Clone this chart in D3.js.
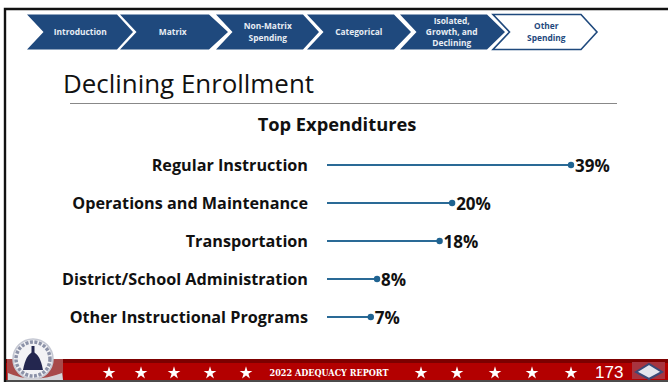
<!DOCTYPE html>
<html><head><meta charset="utf-8">
<script src="https://cdn.jsdelivr.net/npm/d3@7/dist/d3.min.js"></script>
<style>html,body{margin:0;padding:0;background:#fff}svg{display:block}text{font-family:"Open Sans",Lato,sans-serif}</style>
</head><body><svg id="c" width="668" height="382"></svg>
<script>
const categories=["Regular Instruction","Operations and Maintenance","Transportation","District/School Administration","Other Instructional Programs"];
const values=[39,20,18,8,7];
const navLabels=[["Introduction"],["Matrix"],["Non-Matrix","Spending"],["Categorical"],["Isolated,","Growth, and","Declining"],["Other","Spending"]];
const navStarts=[27,120,216,307,400,493];
const navEnds=[117,209,303,394,487,581];
const navTips=[133,228,319,411,505,597];
const starsX=[109,141,174,210,246,421,457,495,532,571];
const svg=d3.select("#c");
const x=d3.scaleLinear().domain([0,39]).range([327,571]);
const y=d3.scalePoint().domain(categories).range([165,317]);
const navy="#1f497d";

svg.append("path").attr("d","M5,382V9H668").attr("fill","none").attr("stroke","#111").attr("stroke-width",2.4);
svg.append("path").attr("d","M5,381H668").attr("stroke","#111").attr("stroke-width",1.4);

navLabels.forEach((lines,i)=>{
  const a=navStarts[i],b=navEnds[i],t=navTips[i],top=14.5,bot=49.5,mid=32,n=16.5;
  const active=i===navLabels.length-1;
  const pts=[[a,top],[b,top],[t,mid],[b,bot],[a,bot],[a+n,mid]];
  svg.append("path").attr("d",d3.line()(pts)+"Z").attr("fill",active?"#fff":navy).attr("stroke",active?navy:"none").attr("stroke-width",active?1.6:0);
  const cx=(a+n+b)/2+(active?1:0), lh=lines.length===3?11:12;
  lines.forEach((l,j)=>svg.append("text").attr("x",cx).attr("y",mid+(j-(lines.length-1)/2)*lh+3).attr("text-anchor","middle")
    .attr("font-size",8.4).attr("font-weight",700).attr("fill",active?navy:"#e8edf4").text(l));
});

svg.append("text").attr("x",63).attr("y",93).attr("font-size",25).attr("fill","#111").attr("textLength",251).attr("lengthAdjust","spacingAndGlyphs").text("Declining Enrollment");
svg.append("line").attr("x1",70).attr("x2",617).attr("y1",103.5).attr("y2",103.5).attr("stroke","#888").attr("stroke-width",1);
svg.append("text").attr("x",337).attr("y",131).attr("text-anchor","middle").attr("font-size",18.3).attr("font-weight",700).attr("fill","#111").text("Top Expenditures");

const rows=svg.append("g").selectAll("g").data(categories).join("g");
rows.append("text").attr("x",308).attr("y",d=>y(d)+5.5).attr("text-anchor","end").attr("font-size",16.2).attr("font-weight",700).attr("fill","#111").text(d=>d);
rows.append("line").attr("x1",x(0)).attr("x2",(d,i)=>x(values[i])).attr("y1",d=>y(d)).attr("y2",d=>y(d)).attr("stroke","#2a6a96").attr("stroke-width",2.2);
rows.append("circle").attr("cx",(d,i)=>x(values[i])).attr("cy",d=>y(d)).attr("r",3.2).attr("fill","#1f6391");
rows.append("text").attr("x",(d,i)=>x(values[i])+4).attr("y",d=>y(d)+7).attr("font-size",17).attr("font-weight",700).attr("fill","#111").text((d,i)=>values[i]+"%");

svg.append("rect").attr("x",6).attr("y",359).attr("width",662).attr("height",21).attr("fill","#b30000");
svg.append("rect").attr("x",6).attr("y",359).attr("width",662).attr("height",4).attr("fill","#7d0000");
const star=d3.symbol().type(d3.symbolStar).size(50);
svg.append("g").selectAll("path").data(starsX).join("path").attr("d",star).attr("transform",d=>`translate(${d},373)`).attr("fill","#fff");
svg.append("text").attr("x",329).attr("y",376).attr("text-anchor","middle").attr("font-size",8.5).attr("font-weight",700).attr("fill","#fff").attr("style","font-family:'DejaVu Serif',serif").attr("textLength",119).attr("lengthAdjust","spacingAndGlyphs").text("2022 ADEQUACY REPORT");
svg.append("text").attr("x",595).attr("y",378.3).attr("font-size",17).attr("fill","#fff").attr("style","font-family:'Liberation Sans',sans-serif").text("173");

svg.append("rect").attr("x",7).attr("y",359).attr("width",56).attr("height",21).attr("fill","#a84a4a");
svg.append("circle").attr("cx",33).attr("cy",359).attr("r",20).attr("fill","#f2f2f5").attr("stroke","#c4c7d2").attr("stroke-width",1.5);
svg.append("circle").attr("cx",33).attr("cy",359).attr("r",17).attr("fill","none").attr("stroke","#8c92a8").attr("stroke-width",3.5).attr("stroke-dasharray","3 1.5");
svg.append("path").attr("d","M23,370 Q26,354 33,352 Q40,354 43,370Z").attr("fill","#23264f");
svg.append("rect").attr("x",31.5).attr("y",346).attr("width",3).attr("height",7).attr("fill","#23264f");
svg.append("path").attr("d","M8,373 Q33,384 62,373 L63,380 H8Z").attr("fill","#d4d4d8");
svg.append("rect").attr("x",632).attr("y",362).attr("width",33).attr("height",17).attr("fill","#a8343f");
svg.append("path").attr("d","M636,372 L649,364 L662,372 L649,379Z").attr("fill","#e4e6ee").attr("stroke","#3c4a78").attr("stroke-width",2);
</script></body></html>
